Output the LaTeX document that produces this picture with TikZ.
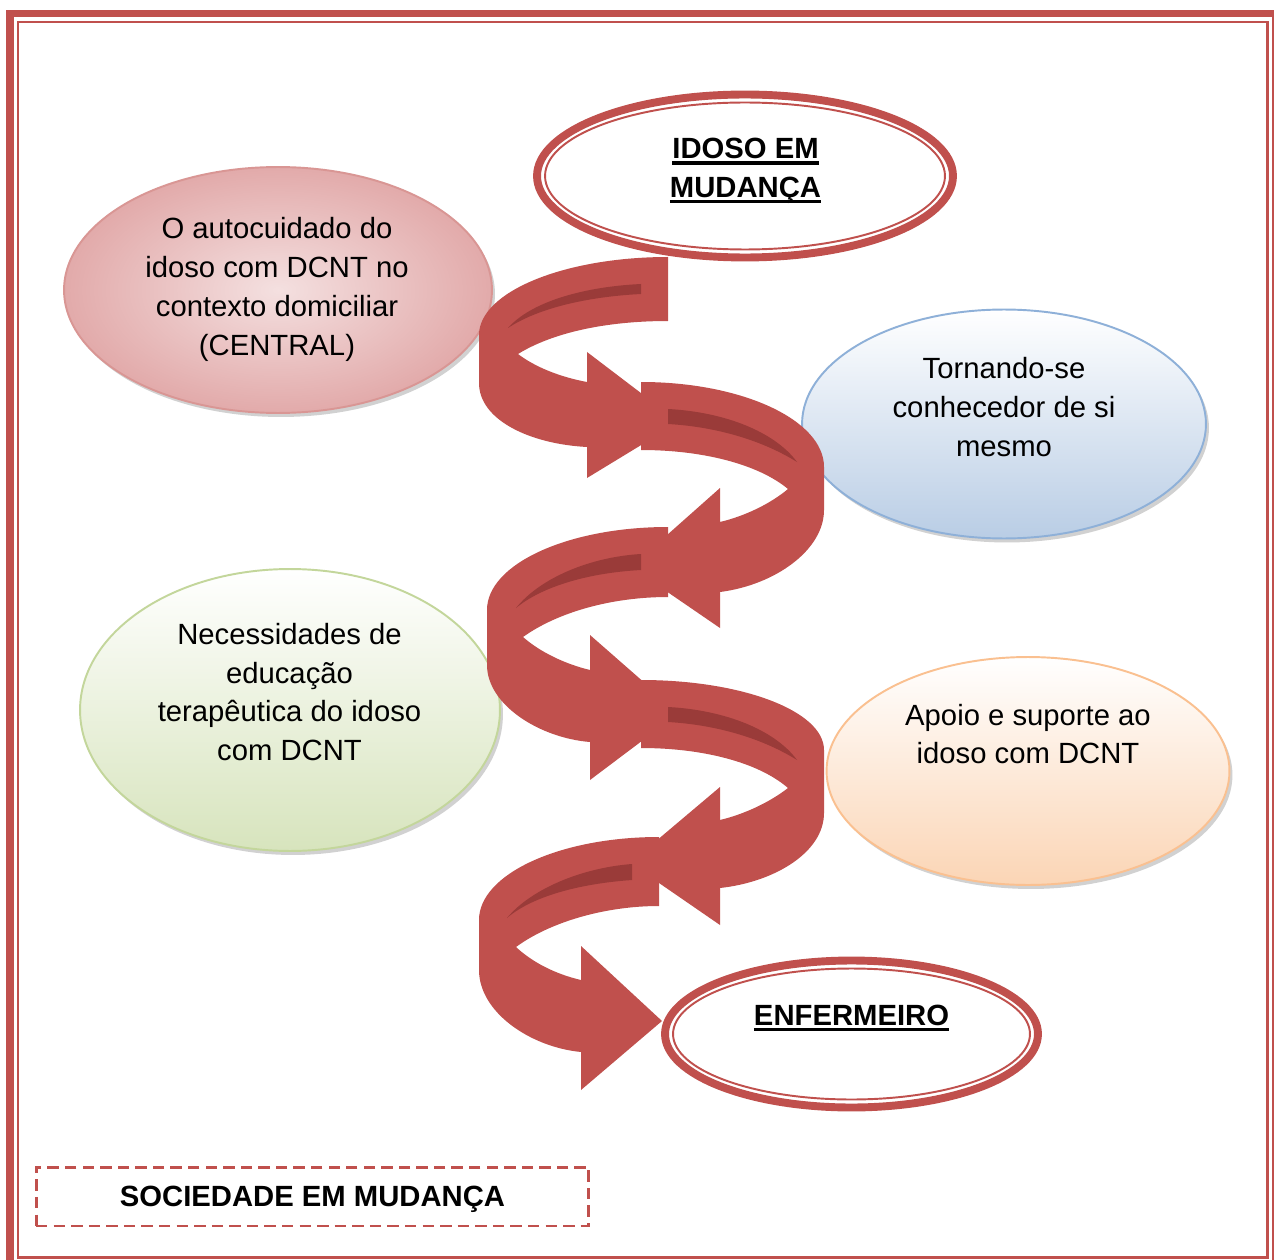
\documentclass[tikz,border=0pt]{standalone}
\usepackage{fontspec}
\setmainfont{Liberation Sans}
\usetikzlibrary{shapes.geometric}
\definecolor{rd}{HTML}{C0504D}
\definecolor{rddark}{HTML}{9A3B39}
\definecolor{pinkIn}{HTML}{F4E0E0}
\definecolor{pinkOut}{HTML}{E2AAAA}
\definecolor{pinkB}{HTML}{D99694}
\definecolor{blueF}{HTML}{B9CDE5}
\definecolor{blueB}{HTML}{8EB0D8}
\definecolor{greenF}{HTML}{D7E4BD}
\definecolor{greenB}{HTML}{C3D69B}
\definecolor{orangeF}{HTML}{FBD5B5}
\definecolor{orangeB}{HTML}{FAC090}
\newcommand\fsz{\fontsize{16.65pt}{22.1pt}\selectfont}
\newcommand\myul[1]{\setbox0\hbox{#1}\rlap{\rule[-3.3pt]{\wd0}{1.8pt}}\box0}
\begin{document}
\begin{tikzpicture}[x=0.02cm,y=-0.02cm,
  txt/.style={font=\fsz, align=center, inner sep=0pt},
  ttl/.style={font=\fsz\bfseries, align=center, inner sep=0pt},
  bubble/.style={ellipse, inner sep=0pt, line width=1.1pt},
  shad/.style={ellipse, inner sep=0pt, fill=black!40, opacity=.45},
  band/.style={fill=rd},
  stripe/.style={fill=rddark},
  ring/.style={ellipse, inner sep=0pt, draw=rd, line width=4.5pt, fill=white},
  ringin/.style={ellipse, inner sep=0pt, draw=rd, line width=1.1pt}]
\useasboundingbox (0,0) rectangle (1274,1260);
\fill[white] (0,0) rectangle (1274,1260);
% page border
\draw[rd, line width=4pt] (10,13.5) rectangle (1275,1266);
\draw[rd, line width=1.7pt] (18,22) rectangle (1267,1257);
% side bubbles
\node[shad, minimum width=8.56cm, minimum height=4.92cm] (pinkS) at (281,294) {};
\node[bubble, draw=pinkB, inner color=pinkIn, outer color=pinkOut, minimum width=8.56cm, minimum height=4.92cm] (pink) at (278,290) {};
\node[shad, minimum width=8.08cm, minimum height=4.58cm] (blueS) at (1007,428) {};
\node[bubble, draw=blueB, top color=white, bottom color=blueF, minimum width=8.08cm, minimum height=4.58cm] (blue) at (1004,424) {};
\node[shad, minimum width=8.4cm, minimum height=5.64cm] (greenS) at (293,714) {};
\node[bubble, draw=greenB, top color=white, bottom color=greenF, minimum width=8.4cm, minimum height=5.64cm] (green) at (290,710) {};
\node[shad, minimum width=8.06cm, minimum height=4.56cm] (orangeS) at (1031,775) {};
\node[bubble, draw=orangeB, top color=white, bottom color=orangeF, minimum width=8.06cm, minimum height=4.56cm] (orange) at (1028,771) {};
% spiral bands
\fill[band] (668,257) .. controls (564,257) and (479,292) .. (479,335) -- (479,383) .. controls (479,420) and (530,444) .. (587,447) -- (587,478) -- (679,422) -- (587,352) -- (587,382) .. controls (560,377) and (535,367) .. (518,354) .. controls (552,333) and (605,321) .. (668,321) -- cycle;
\fill[stripe] (641,284) -- (641,294) .. controls (582,297) and (535,310) .. (508,328) .. controls (530,303) and (580,287) .. (641,284) -- cycle;
\fill[band] (641,382) .. controls (742,382) and (824,420) .. (824,467) -- (824,510) .. controls (824,550) and (775,585) .. (720,592) -- (720,628) -- (631,567) -- (720,488) -- (720,522) .. controls (745,516) and (770,504) .. (788,489) .. controls (758,464) and (702,450) .. (641,450) -- cycle;
\fill[stripe] (668,409) .. controls (725,412) and (775,432) .. (797,462) .. controls (765,442) and (720,427) .. (668,424) -- cycle;
\fill[band] (668,527) .. controls (568,527) and (487,564) .. (487,610) -- (487,665) .. controls (487,705) and (540,738) .. (590,742) -- (590,780) -- (679,713) -- (590,635) -- (590,670) .. controls (565,664) and (540,652) .. (523,637) .. controls (558,612) and (612,597) .. (668,597) -- cycle;
\fill[stripe] (641,554) -- (641,570) .. controls (585,573) and (540,588) .. (516,608) .. controls (540,578) and (590,557) .. (641,554) -- cycle;
\fill[band] (641,680) .. controls (742,680) and (824,711) .. (824,750) -- (824,813) .. controls (824,852) and (775,882) .. (720,888) -- (720,925) -- (630,863) -- (720,787) -- (720,820) .. controls (745,814) and (770,802) .. (788,788) .. controls (758,762) and (702,748) .. (641,748) -- cycle;
\fill[stripe] (668,707) .. controls (725,710) and (775,730) .. (797,760) .. controls (765,740) and (720,725) .. (668,722) -- cycle;
\fill[band] (659,837) .. controls (560,837) and (479,874) .. (479,920) -- (479,970) .. controls (479,1012) and (530,1047) .. (581,1052) -- (581,1090) -- (662,1021) -- (581,946) -- (581,980) .. controls (555,974) and (532,962) .. (516,947) .. controls (550,922) and (605,906) .. (659,906) -- cycle;
\fill[stripe] (632,864) -- (632,880) .. controls (575,884) and (530,898) .. (507,918) .. controls (530,890) and (580,868) .. (632,864) -- cycle;
% top and bottom rings
\node[ring, minimum width=8.32cm, minimum height=3.26cm] (idoso) at (745,176) {};
\node[ringin, minimum width=8.0cm, minimum height=2.94cm] (idosoIn) at (745,176) {};
\node[ring, minimum width=7.46cm, minimum height=2.94cm] (enf) at (851.5,1034) {};
\node[ringin, minimum width=7.14cm, minimum height=2.62cm] (enfIn) at (851.5,1034) {};
% texts
\node[txt] (pinkT) at (277,289.5) {O autocuidado do\\idoso com DCNT no\\contexto domiciliar\\(CENTRAL)};
\node[txt] (blueT) at (1004,407) {Tornando-se\\conhecedor de si\\mesmo};
\node[txt] (greenT) at (289.5,692) {Necessidades de\\educação\\terapêutica do idoso\\com DCNT};
\node[txt] (orangeT) at (1028,734) {Apoio e suporte ao\\idoso com DCNT};
\node[ttl] (idosoT) at (745.5,171) {\myul{IDOSO EM}\\\myul{MUDANÇA}};
\node[ttl] (enfT) at (851.5,1018) {\myul{ENFERMEIRO}};
\node[draw=rd, line width=1.7pt, dash pattern=on 6.5pt off 3.5pt, minimum width=11.06cm, minimum height=1.18cm] (soc) at (312.5,1196.5) {};
\node[ttl] (socT) at (312.5,1199) {SOCIEDADE EM MUDANÇA};
\end{tikzpicture}
\end{document}
